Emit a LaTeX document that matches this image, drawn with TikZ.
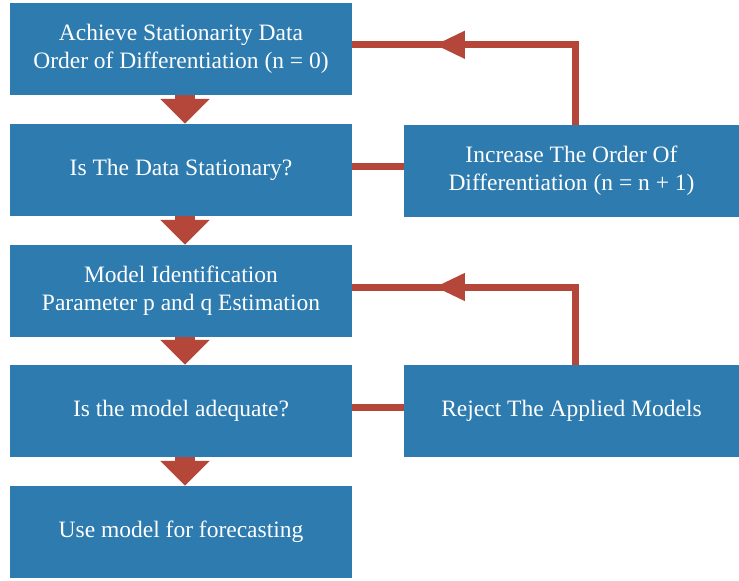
\documentclass[tikz,border=0pt]{standalone}
\usepackage{fontspec}
\setmainfont{Liberation Serif}
\usetikzlibrary{arrows.meta,calc}
\definecolor{boxblue}{RGB}{45,123,175}
\definecolor{arrowred}{RGB}{181,71,58}

\begin{document}
\begin{tikzpicture}[x=1bp,y=-1bp,
    stepbox/.style={fill=boxblue, text=white, align=center, inner sep=0pt,
      minimum width=342bp, minimum height=92bp,
      font=\fontsize{23.5bp}{28bp}\selectfont},
    sidebox/.style={stepbox, minimum width=335bp},
    downarrow/.style={arrowred, line width=20bp, -{Triangle[width=48bp,length=25bp]}},
    loopline/.style={arrowred, line width=7bp},
    looptip/.style={arrowred, line width=7bp, -{Triangle[width=26bp,length=30bp]}}]
    \useasboundingbox (0,0) rectangle (739,581);

    % main column
    \node [stepbox] (achieve) at (181,49) {Achieve Stationarity Data\\Order of Differentiation (n = 0)};
    \node [stepbox] (stationary) at (181,170) {Is The Data Stationary?};
    \node [stepbox] (identify) at (181,291) {Model Identification\\Parameter p and q Estimation};
    \node [stepbox] (adequate) at (181,411) {Is the model adequate?};
    \node [stepbox] (forecast) at (181,532) {Use model for forecasting};

    % side boxes
    \node [sidebox] (increase) at (571.5,171) {Increase The Order Of\\Differentiation (n = n + 1)};
    \node [sidebox] (reject) at (571.5,411) {Reject The Applied Models};

    \draw [downarrow] ([xshift=4bp]achieve.south) -- ([xshift=4bp]stationary.north);
    \draw [downarrow] ([xshift=4bp]stationary.south) -- ([xshift=4bp]identify.north);
    \draw [downarrow] ([xshift=4bp]identify.south) -- ([xshift=4bp]adequate.north);
    \draw [downarrow] ([xshift=4bp]adequate.south) -- ([xshift=4bp]forecast.north);

    % loops back
    \coordinate (topturn) at ([xshift=4bp]increase.north |- achieve.north east);
    \coordinate (topturn) at ($(topturn)+(0,42)$);
    \coordinate (topend) at (achieve.east |- topturn);
    \draw [loopline] ([yshift=4bp]increase.west) -- ([yshift=4bp]increase.west -| stationary.east);
    \draw [loopline] ([xshift=4bp]increase.north) -- (topturn) -- (topend);
    \draw [looptip] ($(topend)!0.52!(topturn)$) -- ($(topend)!0.37!(topturn)$);

    \coordinate (midturn) at ([xshift=4bp]reject.north |- identify.east);
    \coordinate (midturn) at ($(midturn)+(0,-4)$);
    \coordinate (midend) at (identify.east |- midturn);
    \draw [loopline] ([yshift=4bp]reject.west) -- ([yshift=4bp]reject.west -| adequate.east);
    \draw [loopline] ([xshift=4bp]reject.north) -- (midturn) -- (midend);
    \draw [looptip] ($(midend)!0.52!(midturn)$) -- ($(midend)!0.37!(midturn)$);
\end{tikzpicture}
\end{document}
